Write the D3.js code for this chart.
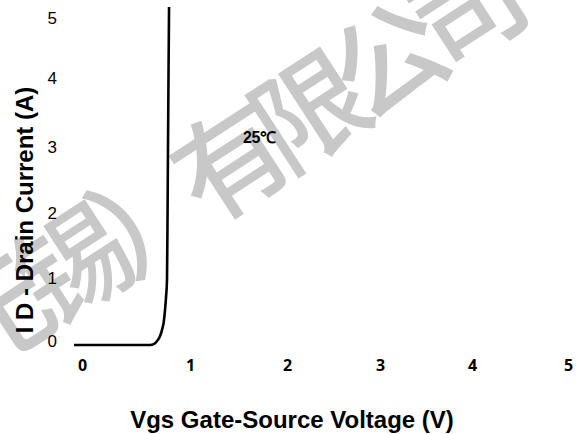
<!DOCTYPE html>
<html>
<head>
<meta charset="utf-8">
<script src="https://cdn.jsdelivr.net/npm/d3@7"></script>
<style>
  html, body { margin: 0; padding: 0; background: #fff; }
  svg { display: block; }
</style>
</head>
<body>
<svg id="chart" width="579" height="434"></svg>
<script>
// ---- data ----
const xTicks = [0, 1, 2, 3, 4, 5];
const yTicks = [0, 1, 2, 3, 4, 5];
// Vgs (V) and Id (A) at 25°C
const vgs = [-0.074, 0.60, 0.63, 0.665, 0.694, 0.72, 0.741, 0.758, 0.769, 0.779, 0.787, 0.792, 0.796, 0.801, 0.806];
const idA = [0.0, 0.0, 0.0, 0.015, 0.06, 0.13, 0.24, 0.38, 0.56, 0.78, 1.03, 2.0, 3.0, 4.1, 5.25];
const tempLabel = "25℃";
const xTitle = "Vgs Gate-Source Voltage (V)";
const yTitle = "I D - Drain Current (A)";
const watermark = "（无锡）有限公司";

const svg = d3.select("#chart");

// scales (the original graph's grid is slightly uneven, so piecewise-linear)
const x = d3.scaleLinear().domain(xTicks).range([82, 190, 287, 380, 472, 568]);
const y = d3.scaleLinear().domain(yTicks).range([345, 282, 217, 151, 82, 22]);

// watermark (behind)
svg.append("text")
  .attr("transform", "translate(180,186) rotate(-33)")
  .attr("text-anchor", "middle")
  .attr("dominant-baseline", "central")
  .attr("font-family", "'Noto Sans CJK SC', sans-serif")
  .attr("font-weight", 500)
  .attr("font-size", 112)
  .attr("letter-spacing", -18)
  .attr("fill", "#c8c8c8")
  .text(watermark);

// y axis labels
const yAxis = d3.axisLeft(y).tickValues(yTicks).tickSize(0).tickPadding(0).tickFormat(d3.format("d"));
const gy = svg.append("g").attr("transform", "translate(57,0)").call(yAxis);
gy.select(".domain").remove();
gy.selectAll("text")
  .attr("dy", null)
  .attr("y", -4)
  .attr("dominant-baseline", "central")
  .attr("font-family", "'Liberation Sans', Arial, sans-serif")
  .attr("font-size", 17)
  .attr("fill", "#000");

// x axis labels
const xAxis = d3.axisBottom(x).tickValues(xTicks).tickSize(0).tickPadding(0).tickFormat(d3.format("d"));
const gx = svg.append("g").attr("transform", "translate(0,360)").call(xAxis);
gx.select(".domain").remove();
gx.selectAll("text")
  .attr("dy", "0.71em")
  .attr("font-family", "'Open Sans', sans-serif")
  .attr("font-weight", "bold")
  .attr("font-size", 16)
  .attr("fill", "#000");

// curve
const pts = vgs.map((v, i) => [v, idA[i]]);
svg.append("path")
  .datum(pts)
  .attr("fill", "none")
  .attr("stroke", "#000")
  .attr("stroke-width", 2.6)
  .attr("stroke-linejoin", "round")
  .attr("d", d3.line().x(d => x(d[0])).y(d => y(d[1])).curve(d3.curveMonotoneX));

// temperature label
svg.append("text")
  .attr("x", 243).attr("y", 143)
  .attr("font-family", "'Liberation Sans', Arial, sans-serif")
  .attr("font-weight", "bold")
  .attr("font-size", 16)
  .attr("letter-spacing", -0.5)
  .text(tempLabel);

// axis titles
svg.append("text")
  .attr("x", 292).attr("y", 428)
  .attr("text-anchor", "middle")
  .attr("font-family", "'Liberation Sans', Arial, sans-serif")
  .attr("font-weight", "bold")
  .attr("font-size", 24)
  .text(xTitle);

svg.append("text")
  .attr("transform", "translate(33,210) rotate(-90)")
  .attr("text-anchor", "middle")
  .attr("font-family", "'Liberation Sans', Arial, sans-serif")
  .attr("font-weight", "bold")
  .attr("font-size", 24)
  .text(yTitle);
</script>
</body>
</html>
